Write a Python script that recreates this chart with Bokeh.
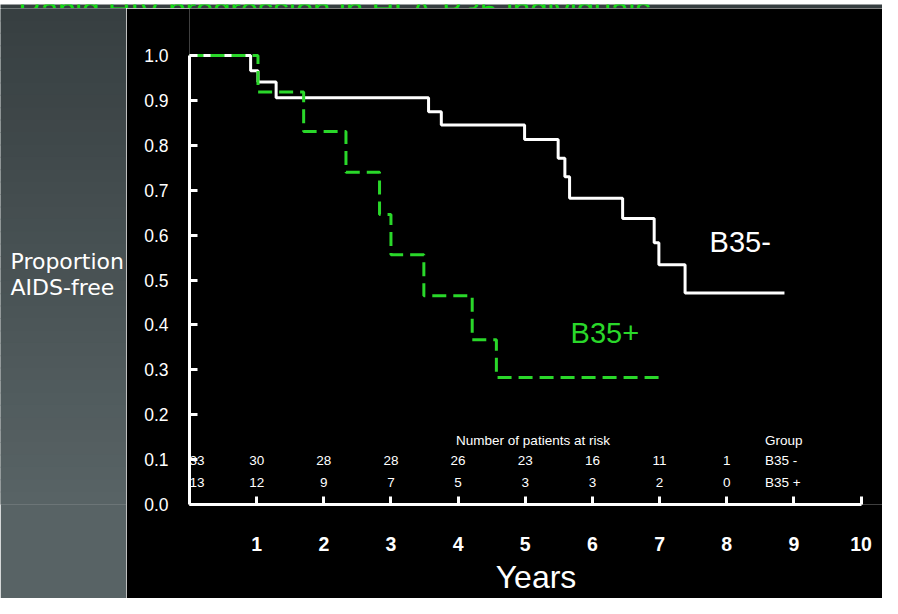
from bokeh.plotting import figure
from bokeh.layouts import column, row
from bokeh.models import Range1d, FixedTicker, PrintfTickFormatter, LinearAxis
from bokeh.core.properties import value
from bokeh.embed import file_html
from bokeh.resources import INLINE

# ---------------- data ----------------
title_text = "Rapid HIV progression in HLA-B35 individuals"
y_label_lines = ["Proportion", "AIDS-free"]
x_label = "Years"

# Kaplan-Meier curves (step "after")
neg_time = [0.0, 0.91, 1.02, 1.29, 3.56, 3.75, 4.99, 5.49, 5.59, 5.66, 6.45, 6.92, 6.99, 7.38, 8.86]
neg_surv = [1.0, 0.966, 0.941, 0.906, 0.875, 0.845, 0.813, 0.771, 0.730, 0.682, 0.637, 0.583, 0.534, 0.471, 0.471]
pos_time = [0.0, 1.02, 1.70, 2.33, 2.83, 3.00, 3.49, 4.21, 4.57, 7.04]
pos_surv = [1.0, 0.919, 0.831, 0.740, 0.646, 0.556, 0.465, 0.367, 0.283, 0.283]
neg_name = "B35-"
pos_name = "B35+"

# numbers at risk
risk_years = [0, 1, 2, 3, 4, 5, 6, 7, 8]
risk_neg = [33, 30, 28, 28, 26, 23, 16, 11, 1]
risk_pos = [13, 12, 9, 7, 5, 3, 3, 2, 0]
risk_title = "Number of patients at risk"
group_title = "Group"
group_labels = ["B35 -", "B35 +"]

x_ticks = [1, 2, 3, 4, 5, 6, 7, 8, 9, 10]
y_ticks = [0.0, 0.1, 0.2, 0.3, 0.4, 0.5, 0.6, 0.7, 0.8, 0.9, 1.0]

# ---------------- styles ----------------
FONT = value("Liberation Sans")
GREEN = "#2ad82a"
GRAY_TOP = (55, 63, 65)
GRAY_END = (88, 99, 101)
GRAY_BOT = "#586365"

TOTAL_W, TOTAL_H = 882, 598
TITLE_H = 8
LEFT_W = 126
MAIN_W = TOTAL_W - LEFT_W
MAIN_H = TOTAL_H - TITLE_H
BORDER_BOTTOM = 94
FRAME_H = MAIN_H - BORDER_BOTTOM

# ---------------- title strip ----------------
pt = figure(width=TOTAL_W, height=TITLE_H, x_range=Range1d(0, TOTAL_W), y_range=Range1d(0, TITLE_H),
            x_axis_location=None, y_axis_location=None, min_border=0,
            background_fill_color="#363e40", border_fill_color="#363e40",
            outline_line_color=None, output_backend="svg", toolbar_location=None)
pt.grid.visible = False
pt.text(x=[18], y=[3], text=[title_text], text_font=FONT, text_font_size="31px",
        text_color="#12e012", text_baseline="alphabetic", text_align="left")

# ---------------- left gray strip ----------------
pl = figure(width=LEFT_W, height=MAIN_H, x_range=Range1d(0, LEFT_W), y_range=Range1d(0, FRAME_H),
            x_axis_location=None, y_axis_location=None, min_border=0,
            background_fill_color=GRAY_BOT, border_fill_color=GRAY_BOT,
            outline_line_color=None, output_backend="svg", toolbar_location=None)
pl.grid.visible = False
nb = 40
bh = FRAME_H / nb
bot, top, cols = [], [], []
for i in range(nb):
    f = i / (nb - 1)
    c = tuple(int(round(GRAY_TOP[k] + (GRAY_END[k] - GRAY_TOP[k]) * f)) for k in range(3))
    top.append(FRAME_H - i * bh + 0.5)
    bot.append(FRAME_H - (i + 1) * bh - 0.5)
    cols.append("#%02x%02x%02x" % c)
pl.quad(left=0, right=LEFT_W, bottom=bot, top=top, fill_color=cols, line_color=None)
pl.text(x=[10, 10], y=[FRAME_H - 253, FRAME_H - 279], text=y_label_lines,
        text_font=value("DejaVu Sans"), text_font_size="22px", text_color="white",
        text_baseline="alphabetic")

# ---------------- main chart ----------------
p = figure(width=MAIN_W, height=MAIN_H, x_range=Range1d(0, 10.32), y_range=Range1d(0, 1.1047),
           min_border_left=63, min_border_right=0, min_border_top=0, min_border_bottom=BORDER_BOTTOM,
           background_fill_color="black", border_fill_color="black",
           outline_line_color=None, output_backend="svg", toolbar_location=None)
p.grid.visible = False

for ax in (p.xaxis[0], p.yaxis[0]):
    ax.axis_line_color = "white"
    ax.axis_line_width = 3
    ax.major_tick_line_color = "white"
    ax.major_tick_line_width = 3
    ax.major_tick_in = 8
    ax.major_tick_out = 0
    ax.minor_tick_line_color = None
    ax.major_label_text_color = "white"
    ax.major_label_text_font = "Liberation Sans"

xa = p.xaxis[0]
xa.ticker = FixedTicker(ticks=x_ticks)
xa.bounds = (0, 10)
xa.major_label_standoff = 32
xa.major_label_text_font_size = "19.5px"
xa.major_label_text_font_style = "bold"

ya = p.yaxis[0]
ya.ticker = FixedTicker(ticks=y_ticks)
ya.formatter = PrintfTickFormatter(format="%.1f")
ya.bounds = (0, 1)
ya.major_label_standoff = 21
ya.major_label_text_font_size = "17.5px"

# second (label-only) axis carrying the "Years" title, centred a bit right of the ticks
xl = LinearAxis(ticker=FixedTicker(ticks=[]), bounds=(0, 10.77),
                axis_line_color=None, major_tick_line_color=None, minor_tick_line_color=None,
                major_tick_in=0, major_tick_out=0, minor_tick_in=0, minor_tick_out=0,
                major_label_standoff=0, axis_label=x_label, axis_label_standoff=5,
                axis_label_text_font="Liberation Sans", axis_label_text_font_size="32px",
                axis_label_text_font_style="normal", axis_label_text_color="white")
p.add_layout(xl, "below")

p.step(neg_time, neg_surv, mode="after", line_color="white", line_width=3)
p.step(pos_time, pos_surv, mode="after", line_color=GREEN, line_width=3, line_dash="14 7")

p.text(x=[7.745], y=[0.585], text=[neg_name], text_font=FONT, text_font_size="29px",
       text_color="white", text_baseline="middle", text_align="left")
p.text(x=[5.675], y=[0.382], text=[pos_name], text_font=FONT, text_font_size="29px",
       text_color=GREEN, text_baseline="middle", text_align="left")

row1_y, row2_y, head_y = 0.0976, 0.0499, 0.143
n_rest = len(risk_years) - 1
p.text(x=risk_years[1:], y=[row1_y] * n_rest, text=[str(v) for v in risk_neg[1:]],
       text_font=FONT, text_font_size="13.5px", text_color="white",
       text_align="center", text_baseline="middle")
p.text(x=risk_years[1:], y=[row2_y] * n_rest, text=[str(v) for v in risk_pos[1:]],
       text_font=FONT, text_font_size="13.5px", text_color="white",
       text_align="center", text_baseline="middle")
p.text(x=risk_years[:1] * 2, y=[row1_y, row2_y], text=[str(risk_neg[0]), str(risk_pos[0])],
       text_font=FONT, text_font_size="13.5px", text_color="white",
       text_align="left", text_baseline="middle")
p.text(x=[3.97], y=[head_y], text=[risk_title], text_font=FONT, text_font_size="13.5px",
       text_color="white", text_align="left", text_baseline="middle")
p.text(x=[8.57, 8.57, 8.57], y=[head_y, row1_y, row2_y], text=[group_title] + group_labels,
       text_font=FONT, text_font_size="13.5px", text_color="white",
       text_align="left", text_baseline="middle")

layout = column(pt, row(pl, p, spacing=0), spacing=0)
open("out.html", "w").write(file_html(layout, INLINE))
